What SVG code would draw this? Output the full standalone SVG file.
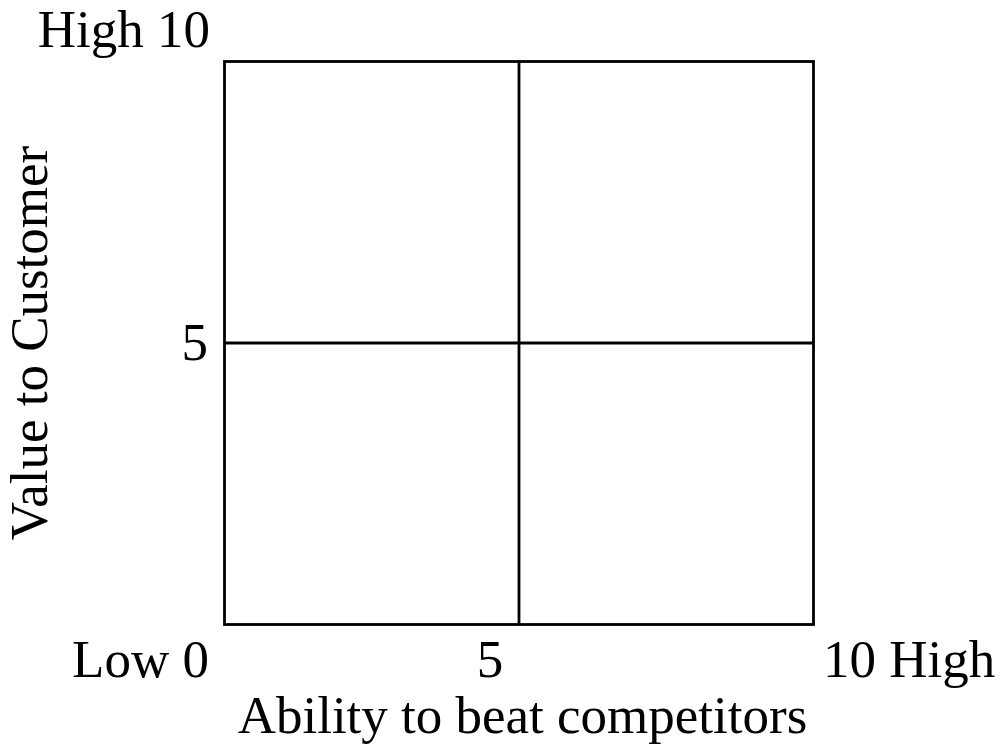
<svg xmlns="http://www.w3.org/2000/svg" width="1007" height="750" viewBox="0 0 1007 750">
<style>
text{font-family:"Liberation Serif","Times New Roman",serif;font-size:53px;fill:#000}
.ln{stroke:#000;stroke-width:2.8;fill:none}
</style>
<rect width="1007" height="750" fill="#fff"/>
<g id="grid">
<rect class="ln" x="224.5" y="61.5" width="589" height="563"/>
</g>
<g id="connectors">
<line class="ln" x1="519" y1="61.5" x2="519" y2="624.5"/>
<line class="ln" x1="224.5" y1="343" x2="813.5" y2="343"/>
</g>
<g id="labels">
<text x="210" y="47" text-anchor="end">High 10</text>
<text x="208" y="360" text-anchor="end">5</text>
<text x="209" y="677" text-anchor="end">Low 0</text>
<text x="490" y="677" text-anchor="middle">5</text>
<text x="823" y="677">10 High</text>
<text x="522.5" y="733" text-anchor="middle">Ability to beat competitors</text>
<text transform="translate(47,343) rotate(-90)" text-anchor="middle">Value to Customer</text>
</g>
</svg>
